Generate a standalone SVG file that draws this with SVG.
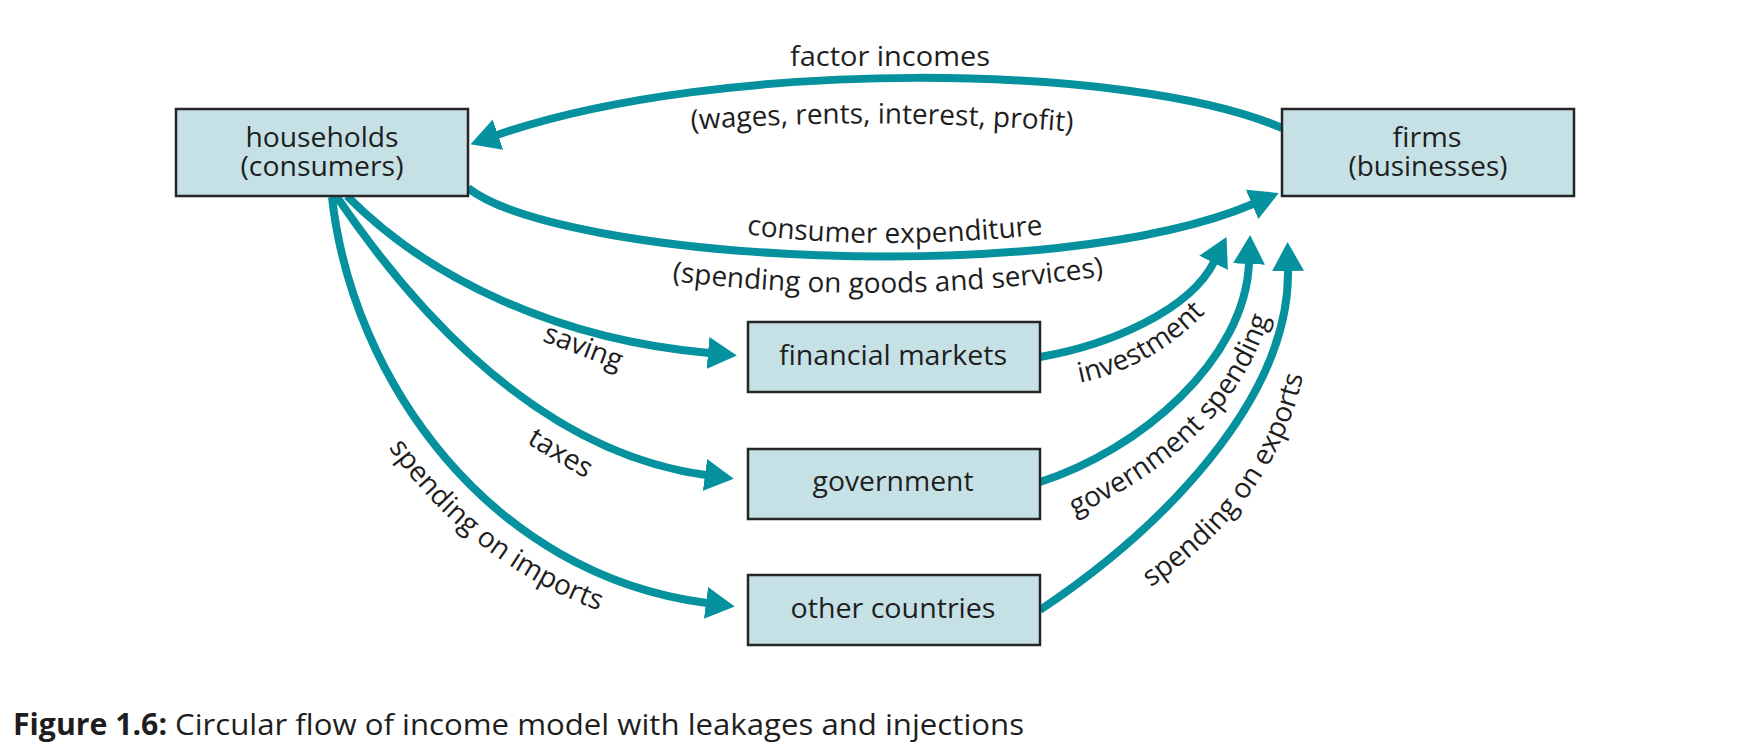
<svg xmlns="http://www.w3.org/2000/svg" width="1752" height="752" viewBox="0 0 1752 752">
<style>
.box{fill:#c6e1e6;stroke:#262626;stroke-width:2.5}
.t{font-family:"Open Sans","DejaVu Sans",sans-serif;font-size:28px;fill:#1e1e1e}
.c{text-anchor:middle}
.flow{fill:none;stroke:#05929e;stroke-width:8;marker-end:url(#ah)}
</style>
<defs>
<marker id="ah" markerUnits="userSpaceOnUse" markerWidth="30" markerHeight="34" viewBox="0 0 30 34" refX="1" refY="17" orient="auto">
<path d="M0,1 L29,17 L0,33 Z" fill="#05929e"/>
</marker>
<path id="p-wages" d="M688,130 Q880,116 1076,132"/>
<path id="p-cons" d="M744,234 Q880,252 1046,234"/>
<path id="p-spend" d="M672,281 Q885,307 1104,276"/>
<path id="p-imports" d="M386,444 Q469.5,564 603,612"/>
<path id="p-invest" d="M1079,383 Q1151.5,368.5 1206,312"/>
<path id="p-gov" d="M1072,517 Q1231,444 1270,315"/>
<path id="p-exports" d="M1151,587 Q1275,502.5 1303,376"/>
</defs>
<rect width="1752" height="752" fill="#ffffff"/>

<g id="connectors">
<path id="c-factor" class="flow" d="M1282,128 C1130,62 720,58 497,135"/>
<path id="c-consumer" class="flow" d="M468,188 C560,260 1050,290 1253,204"/>
<path id="c-saving" class="flow" d="M347,196 C430,280 560,340 709,353"/>
<path id="c-taxes" class="flow" d="M337,197 C390,275 520,450 706,475"/>
<path id="c-imports" class="flow" d="M332,197 C352,380 490,575 707,603"/>
<path id="c-invest" class="flow" d="M1040,357 C1110,345 1190,310 1214,262"/>
<path id="c-gov" class="flow" d="M1040,482 C1140,450 1245,360 1249,263"/>
<path id="c-exports" class="flow" d="M1040,610 C1160,530 1290,400 1288,270"/>
</g>

<g id="households">
<rect class="box" x="176" y="109" width="292" height="87"/>
<text class="t c" x="322" y="147" textLength="153" lengthAdjust="spacingAndGlyphs">households</text>
<text class="t c" x="322" y="176" textLength="163" lengthAdjust="spacingAndGlyphs">(consumers)</text>
</g>
<g id="firms">
<rect class="box" x="1282" y="109" width="292" height="87"/>
<text class="t c" x="1427" y="147" textLength="69" lengthAdjust="spacingAndGlyphs">firms</text>
<text class="t c" x="1428" y="176" textLength="159" lengthAdjust="spacingAndGlyphs">(businesses)</text>
</g>
<g id="financial-markets">
<rect class="box" x="748" y="322" width="292" height="70"/>
<text class="t c" x="893" y="365" textLength="228" lengthAdjust="spacingAndGlyphs">financial markets</text>
</g>
<g id="government">
<rect class="box" x="748" y="449" width="292" height="70"/>
<text class="t c" x="893" y="491" textLength="161" lengthAdjust="spacingAndGlyphs">government</text>
</g>
<g id="other-countries">
<rect class="box" x="748" y="575" width="292" height="70"/>
<text class="t c" x="893" y="618" textLength="205" lengthAdjust="spacingAndGlyphs">other countries</text>
</g>

<g id="labels">
<text class="t c" x="890" y="66" textLength="200" lengthAdjust="spacingAndGlyphs">factor incomes</text>
<text class="t"><textPath href="#p-wages" startOffset="50%" text-anchor="middle">(wages, rents, interest, profit)</textPath></text>
<text class="t"><textPath href="#p-cons" startOffset="50%" text-anchor="middle">consumer expenditure</textPath></text>
<text class="t"><textPath href="#p-spend" startOffset="50%" text-anchor="middle">(spending on goods and services)</textPath></text>
<text class="t c" transform="translate(583,348) rotate(21)" x="0" y="8">saving</text>
<text class="t c" transform="translate(560,454) rotate(31)" x="0" y="8">taxes</text>
<text class="t"><textPath href="#p-imports" startOffset="50%" text-anchor="middle">spending on imports</textPath></text>
<text class="t"><textPath href="#p-invest" startOffset="50%" text-anchor="middle">investment</textPath></text>
<text class="t"><textPath href="#p-gov" startOffset="50%" text-anchor="middle">government spending</textPath></text>
<text class="t"><textPath href="#p-exports" startOffset="50%" text-anchor="middle">spending on exports</textPath></text>
</g>

<g id="caption">
<text x="13" y="735" font-family="'Open Sans','DejaVu Sans',sans-serif" font-size="30" font-weight="bold" fill="#1e1e1e" textLength="154" lengthAdjust="spacingAndGlyphs">Figure 1.6:</text>
<text x="175" y="735" font-family="'Open Sans','DejaVu Sans',sans-serif" font-size="30" fill="#1e1e1e" textLength="849" lengthAdjust="spacingAndGlyphs">Circular flow of income model with leakages and injections</text>
</g>
</svg>
